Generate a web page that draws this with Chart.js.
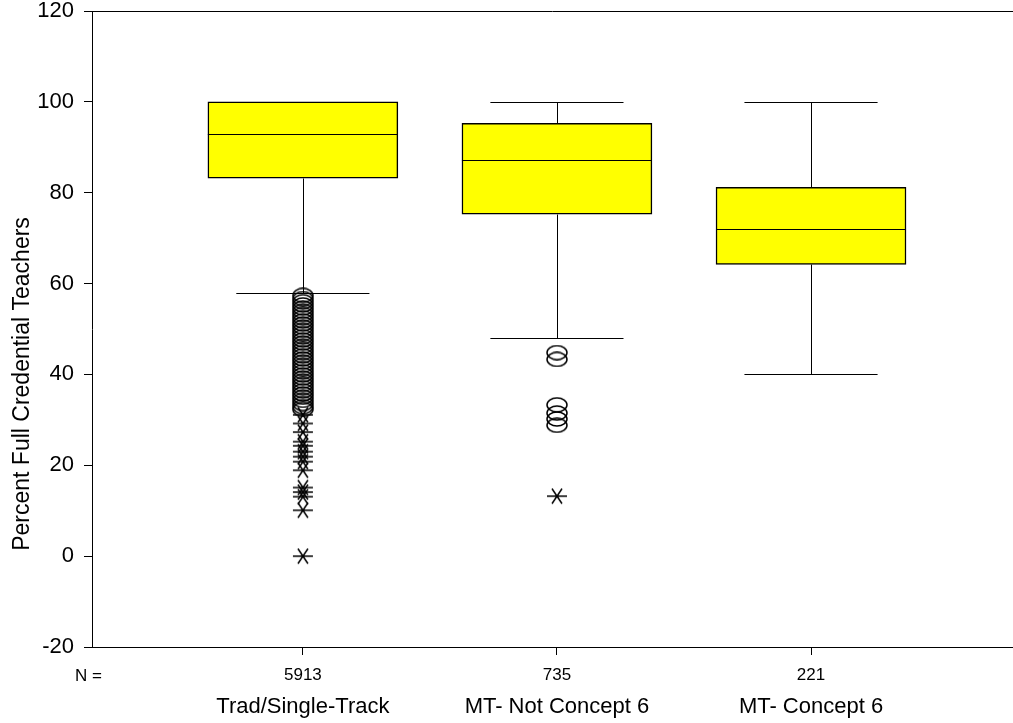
<!DOCTYPE html>
<html>
<head>
<meta charset="utf-8">
<script src="https://cdn.jsdelivr.net/npm/chart.js@4.4.1/dist/chart.umd.min.js"></script>
<style>
  html, body { margin: 0; padding: 0; background: #fff; overflow: hidden; }
  #wrap { width: 1013px; height: 723px; position: relative; }
</style>
</head>
<body>
<div id="wrap"><canvas id="boxChart"></canvas></div>
<script>
// Data
const categories = ['Trad/Single-Track', 'MT- Not Concept 6', 'MT- Concept 6'];
const counts = [5913, 735, 221];
const whiskerLow = [57.9, 48.1, 40];
const q1 = [83.2, 75.3, 64.2];
const medians = [92.9, 87.1, 72.0];
const q3 = [100, 95.3, 81.2];
const whiskerHigh = [100, 100, 100];
const outlierCircles = [
  [57.4, 56.7, 56.0, 55.3, 54.6, 53.9, 53.2, 52.5, 51.8, 51.1, 50.4, 49.7, 49.0, 48.3,
   47.6, 46.9, 46.2, 45.5, 44.8, 44.1, 43.4, 42.7, 42.0, 41.3, 40.6, 39.9, 39.2, 38.5,
   37.8, 37.1, 36.4, 35.7, 35.0, 34.3, 33.6, 32.9, 32.3],
  [44.8, 43.3, 33.3, 31.5, 30.2, 28.8],
  []
];
const extremeStars = [
  [31.1, 29.2, 27.3, 25.2, 24.3, 23.0, 21.9, 20.8, 18.9, 15.1, 14.1, 13.1, 10.1, 0],
  [13.2],
  []
];
const yTicks = [-20, 0, 20, 40, 60, 80, 100, 120];

const FONT = "'Liberation Sans', Arial, sans-serif";

// Marker shapes (SPSS style open octagon and asterisk)
function makeCircleMark() {
  const c = document.createElement('canvas');
  c.width = 22; c.height = 16;
  const g = c.getContext('2d');
  g.strokeStyle = '#000';
  g.lineWidth = 1.5;
  g.beginPath();
  g.ellipse(11, 8, 10, 7, 0, 0, Math.PI * 2);
  g.stroke();
  return c;
}
function makeStarMark() {
  const c = document.createElement('canvas');
  c.width = 22; c.height = 18;
  const g = c.getContext('2d');
  g.strokeStyle = '#000';
  g.lineWidth = 1.5;
  g.beginPath();
  g.moveTo(1, 9); g.lineTo(21, 9);
  g.moveTo(6, 1.5); g.lineTo(16, 16.5);
  g.moveTo(6, 16.5); g.lineTo(16, 1.5);
  g.stroke();
  return c;
}
const circleMark = makeCircleMark();
const starMark = makeStarMark();

const boxData = categories.map((c, i) => ({ x: i + 1, y: [q1[i], q3[i]] }));
const circleData = [];
outlierCircles.forEach((arr, i) => arr.forEach(v => circleData.push({ x: i + 1, y: v })));
const starData = [];
extremeStars.forEach((arr, i) => arr.forEach(v => starData.push({ x: i + 1, y: v })));

// Whiskers, medians, frame and extra labels
const boxExtras = {
  id: 'boxExtras',
  afterDatasetsDraw(chart) {
    const { ctx, chartArea, scales } = chart;
    const xs = scales.x, ys = scales.y;
    const capHalf = 0.262;
    const boxHalf = 0.374;
    ctx.save();
    ctx.strokeStyle = '#000';
    ctx.lineWidth = 1;
    categories.forEach((c, i) => {
      const x = Math.round(xs.getPixelForValue(i + 1)) + 0.5;
      const px = v => Math.round(ys.getPixelForValue(v)) + 0.5;
      ctx.beginPath();
      // upper whisker
      if (whiskerHigh[i] > q3[i]) {
        ctx.moveTo(x, px(q3[i]));
        ctx.lineTo(x, px(whiskerHigh[i]));
        ctx.moveTo(xs.getPixelForValue(i + 1 - capHalf), px(whiskerHigh[i]));
        ctx.lineTo(xs.getPixelForValue(i + 1 + capHalf), px(whiskerHigh[i]));
      }
      // lower whisker
      ctx.moveTo(x, px(q1[i]));
      ctx.lineTo(x, px(whiskerLow[i]));
      ctx.moveTo(xs.getPixelForValue(i + 1 - capHalf), px(whiskerLow[i]));
      ctx.lineTo(xs.getPixelForValue(i + 1 + capHalf), px(whiskerLow[i]));
      // median
      ctx.moveTo(xs.getPixelForValue(i + 1 - boxHalf), px(medians[i]));
      ctx.lineTo(xs.getPixelForValue(i + 1 + boxHalf), px(medians[i]));
      ctx.stroke();
    });
    // top frame line
    ctx.beginPath();
    ctx.moveTo(chartArea.left, Math.round(chartArea.top) + 0.5);
    ctx.lineTo(chartArea.right, Math.round(chartArea.top) + 0.5);
    ctx.stroke();

    ctx.fillStyle = '#000';
    // category names
    ctx.font = '22px ' + FONT;
    ctx.textAlign = 'center';
    ctx.textBaseline = 'middle';
    categories.forEach((c, i) => {
      ctx.fillText(c, xs.getPixelForValue(i + 1), 707);
    });
    // N =
    ctx.font = '17px ' + FONT;
    ctx.textAlign = 'left';
    ctx.fillText('N =', 75, 676);
    // y title
    ctx.translate(23, 384);
    ctx.rotate(-Math.PI / 2);
    ctx.font = '23px ' + FONT;
    ctx.textAlign = 'center';
    ctx.fillText('Percent Full Credential Teachers', 0, 0);
    ctx.restore();
  }
};

const boxChart = new Chart(document.getElementById('boxChart'), {
  type: 'bar',
  data: {
    datasets: [
      {
        type: 'bar',
        label: 'Box',
        data: boxData,
        backgroundColor: '#FFFF00',
        borderColor: '#000',
        borderWidth: 1.5,
        borderSkipped: false,
        barThickness: 190,
        order: 2
      },
      {
        type: 'scatter',
        label: 'Outliers',
        data: circleData,
        pointStyle: circleMark,
        order: 1
      },
      {
        type: 'scatter',
        label: 'Extremes',
        data: starData,
        pointStyle: starMark,
        order: 1
      }
    ]
  },
  options: {
    responsive: true,
    maintainAspectRatio: false,
    animation: false,
    layout: { autoPadding: false, padding: { top: 11, left: 0, right: 0, bottom: 0 } },
    plugins: {
      legend: { display: false },
      tooltip: { enabled: false }
    },
    scales: {
      x: {
        type: 'linear',
        offset: false,
        min: 0.17,
        max: 3.795,
        afterBuildTicks: scale => { scale.ticks = counts.map((n, i) => ({ value: i + 1 })); },
        afterFit: scale => { scale.height = 76; },
        grid: { display: true, offset: false, drawOnChartArea: false, drawTicks: true, tickLength: 8, color: '#000' },
        border: { display: true, color: '#000', width: 1 },
        ticks: {
          color: '#000',
          font: { family: FONT, size: 17 },
          padding: 10,
          maxRotation: 0,
          autoSkip: false,
          callback: v => counts[v - 1]
        }
      },
      y: {
        min: -20,
        max: 120,
        afterBuildTicks: scale => { scale.ticks = yTicks.map(v => ({ value: v })); },
        afterFit: scale => {
          scale.width = 92;
          scale.paddingTop = 0;
          scale.paddingBottom = 0;
        },
        grid: { display: true, drawOnChartArea: false, drawTicks: true, tickLength: 8, color: '#000' },
        border: { display: true, color: '#000', width: 1 },
        ticks: {
          color: '#000',
          font: { family: FONT, size: 22 },
          padding: 10
        }
      }
    }
  },
  plugins: [boxExtras]
});
</script>
</body>
</html>
